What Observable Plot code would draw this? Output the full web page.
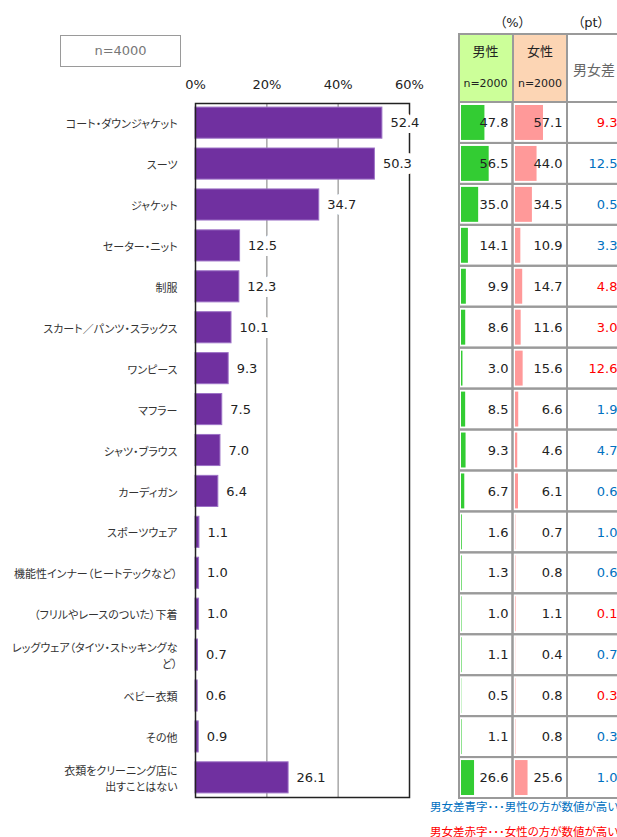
<!DOCTYPE html>
<html><head><meta charset="utf-8">
<script src="https://cdn.jsdelivr.net/npm/d3@7"></script>
<script src="https://cdn.jsdelivr.net/npm/@observablehq/plot@0.6"></script>
<style>
html,body{margin:0;padding:0;background:#fff;}
#wrap{position:relative;width:617px;height:837px;overflow:hidden;font-family:"DejaVu Sans","Noto Sans CJK JP",sans-serif;font-feature-settings:"palt";color:#222;}
#wrap svg{position:absolute;top:0;background:transparent !important;}
#wrap text{font-feature-settings:"palt";}
.abs{position:absolute;white-space:nowrap;}
</style></head><body><div id="wrap"></div>
<script>
// ---- data ----
const categories = ["コート・ダウンジャケット","スーツ","ジャケット","セーター・ニット","制服","スカート／パンツ・スラックス","ワンピース","マフラー","シャツ・ブラウス","カーディガン","スポーツウェア","機能性インナー（ヒートテックなど）","（フリルやレースのついた）下着","レッグウェア（タイツ・ストッキングなど）","ベビー衣類","その他","衣類をクリーニング店に出すことはない"];
const categoryLabels = ["コート・ダウンジャケット","スーツ","ジャケット","セーター・ニット","制服","スカート／パンツ・スラックス","ワンピース","マフラー","シャツ・ブラウス","カーディガン","スポーツウェア","機能性インナー（ヒートテックなど）","（フリルやレースのついた）下着","レッグウェア（タイツ・ストッキングな\nど）","ベビー衣類","その他","衣類をクリーニング店に\n出すことはない"];
const totalValues = [52.4,50.3,34.7,12.5,12.3,10.1,9.3,7.5,7.0,6.4,1.1,1.0,1.0,0.7,0.6,0.9,26.1];
const maleValues = [47.8,56.5,35.0,14.1,9.9,8.6,3.0,8.5,9.3,6.7,1.6,1.3,1.0,1.1,0.5,1.1,26.6];
const femaleValues = [57.1,44.0,34.5,10.9,14.7,11.6,15.6,6.6,4.6,6.1,0.7,0.8,1.1,0.4,0.8,0.8,25.6];
const diffValues = [9.3,12.5,0.5,3.3,4.8,3.0,12.6,1.9,4.7,0.6,1.0,0.6,0.1,0.7,0.3,0.3,1.0];
const xTicks = [0,20,40,60];
const gridTicks = [20,40];
const sampleLabel = "n=4000";
const groupLabels = ["男性","女性","男女差"];
const groupN = "n=2000";
const noteBlue = "男女差青字･･･男性の方が数値が高い";
const noteRed = "男女差赤字･･･女性の方が数値が高い";

const rows = categories.map((c,i)=>({cat:c,label:categoryLabels[i],total:totalValues[i],male:maleValues[i],female:femaleValues[i],diff:diffValues[i],maleHigher:maleValues[i]>femaleValues[i]}));

const FONT = '"DejaVu Sans","Noto Sans CJK JP",sans-serif';
const wrap = document.getElementById("wrap");
function addSvg(svg,left){svg.style.left=left+"px";wrap.appendChild(svg);}
function div(html,css){const d=document.createElement("div");d.className="abs";d.innerHTML=html;Object.assign(d.style,css);wrap.appendChild(d);return d;}

// ---- main bar chart ----
const main = Plot.plot({
  width:430,height:837,marginTop:103,marginBottom:40,marginLeft:195,marginRight:21,
  style:{fontFamily:FONT,background:"transparent"},
  x:{domain:[0,60],axis:null,label:null},
  y:{domain:categories,paddingInner:0.24,paddingOuter:0.1,round:false,axis:null},
  marks:[
    Plot.ruleX(gridTicks,{stroke:"#a8a8a8",strokeWidth:1.5}),
    Plot.barX(rows,{y:"cat",x:"total",fill:"#7030a0",stroke:"#9d72c6",strokeWidth:1}),
    Plot.frame({stroke:"#222",strokeWidth:1.5}),
    Plot.axisX(xTicks,{anchor:"top",label:null,tickSize:0,tickPadding:15,tickFormat:d=>d+"%",fontSize:13,color:"#222"}),
    Plot.text(rows,{y:"cat",x:"total",text:d=>d.total.toFixed(1),textAnchor:"start",dx:8,fontSize:13,fill:"#222",stroke:"white",strokeWidth:12}),
    Plot.text(rows,{y:"cat",text:"label",frameAnchor:"left",textAnchor:"end",dx:-18,fontSize:11,fill:"#333",lineHeight:1.45})
  ]
});
addSvg(main,0);

// ---- table columns ----
const T = {width:197,height:837,marginTop:102,marginBottom:39};
function column(ml,mr,xr,marks){
  return Plot.plot({
    width:T.width,height:T.height,marginTop:T.marginTop,marginBottom:T.marginBottom,marginLeft:ml,marginRight:mr,
    style:{fontFamily:FONT,background:"transparent"},
    x:{domain:[0,100],range:xr,axis:null,label:null},
    y:{domain:categories,paddingInner:0,paddingOuter:0,round:false,axis:null},
    marks
  });
}
const cellStroke = {y:"cat",fill:"none",stroke:"#9a9a9a",strokeWidth:2};
const maleCol = column(29,114.5,[31,80],[
  Plot.barX(rows,{y:"cat",x:"male",fill:"#33cc33",insetTop:3,insetBottom:3}),
  Plot.cell(rows,cellStroke),
  Plot.text(rows,{y:"cat",text:d=>d.male.toFixed(1),frameAnchor:"right",textAnchor:"end",dx:-4.5,fontSize:13,fill:"#222"})
]);
addSvg(maleCol,430);
const femaleCol = column(82.5,60,[85,134],[
  Plot.barX(rows,{y:"cat",x:"female",fill:"#ff9999",insetTop:3,insetBottom:3}),
  Plot.cell(rows,cellStroke),
  Plot.text(rows,{y:"cat",text:d=>d.female.toFixed(1),frameAnchor:"right",textAnchor:"end",dx:-5,fontSize:13,fill:"#222"})
]);
addSvg(femaleCol,430);
const diffCol = column(137,0,[137,197],[
  Plot.cell(rows,cellStroke),
  Plot.text(rows,{y:"cat",text:d=>d.diff.toFixed(1),frameAnchor:"right",textAnchor:"end",dx:-10,fontSize:13,fill:d=>d.maleHigher?"#0070c0":"#ff0000"})
]);
addSvg(diffCol,430);

// ---- header & notes ----
div(sampleLabel,{left:"60px",top:"35px",width:"121px",height:"32px",border:"1.5px solid #9a9a9a",boxSizing:"border-box",textAlign:"center",lineHeight:"29px",fontSize:"13px",color:"#777"});
div("",{left:"458px",top:"33px",width:"55.5px",height:"70px",background:"#ccff99",border:"2px solid #9a9a9a",boxSizing:"border-box"});
div("",{left:"511.5px",top:"33px",width:"56.5px",height:"70px",background:"#fcd5b4",border:"2px solid #9a9a9a",boxSizing:"border-box"});
div("",{left:"566px",top:"33px",width:"70px",height:"70px",background:"#fff",border:"2px solid #9a9a9a",boxSizing:"border-box"});
div(groupLabels[0],{left:"458px",width:"55px",top:"44px",textAlign:"center",fontSize:"13px",lineHeight:"16px"});
div(groupLabels[1],{left:"512.5px",width:"55px",top:"44px",textAlign:"center",fontSize:"13px",lineHeight:"16px"});
div(groupN,{left:"458px",width:"55px",top:"76px",textAlign:"center",fontSize:"11px",lineHeight:"16px"});
div(groupN,{left:"512.5px",width:"55px",top:"76px",textAlign:"center",fontSize:"11px",lineHeight:"16px"});
div(groupLabels[2],{left:"567px",width:"54px",top:"62px",textAlign:"center",fontSize:"14px",lineHeight:"16px",color:"#666"});
div("（%）",{left:"482.5px",width:"60px",top:"15px",textAlign:"center",fontSize:"13px",lineHeight:"16px"});
div("（pt）",{left:"561px",width:"60px",top:"15px",textAlign:"center",fontSize:"13px",lineHeight:"16px"});
div(noteBlue,{left:"430px",top:"800px",fontSize:"11.5px",lineHeight:"14px",color:"#0070c0"});
div(noteRed,{left:"430px",top:"825px",fontSize:"11.5px",lineHeight:"14px",color:"#ff0000"});
</script></body></html>
